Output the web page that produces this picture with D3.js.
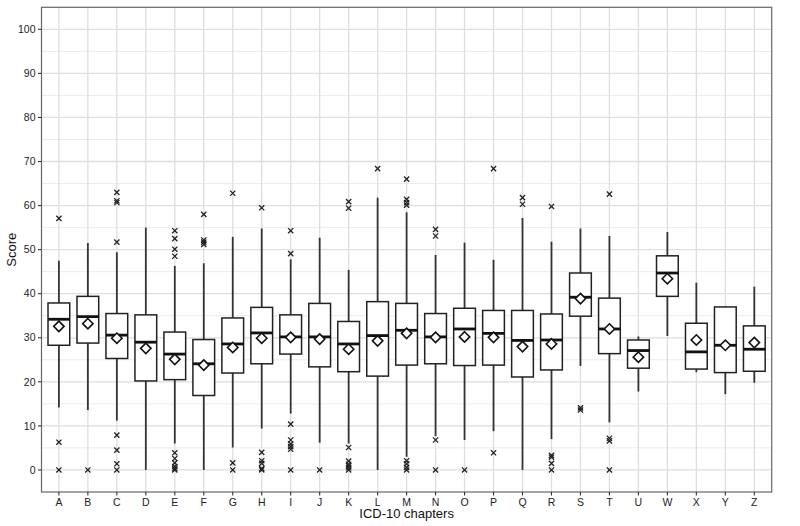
<!DOCTYPE html>
<html>
<head>
<meta charset="utf-8">
<script src="https://cdn.jsdelivr.net/npm/d3@7"></script>
<style>
body{margin:0;background:#fff;}
text{font-family:"Liberation Sans",Arial,Helvetica,sans-serif;}
</style>
</head>
<body>
<svg id="chart" width="800" height="526"></svg>
<script>
const categories = ["A","B","C","D","E","F","G","H","I","J","K","L","M","N","O","P","Q","R","S","T","U","W","X","Y","Z"];
const whiskerLow  = [14.2,13.6,11.2,0,6.0,0,5.1,9.4,12.8,6.2,6.0,0,3.0,7.7,6.8,8.8,0,7.0,23.6,10.8,17.8,30.4,22.2,17.2,19.8];
const q1          = [28.3,28.8,25.3,20.2,20.5,16.9,22.0,24.1,26.3,23.4,22.3,21.3,23.8,24.1,23.7,23.8,21.1,22.7,34.9,26.4,23.1,39.4,22.9,22.1,22.4];
const medians     = [34.2,34.8,30.6,29.0,26.3,24.1,28.6,31.1,30.2,30.2,28.6,30.5,31.7,30.2,32.0,31.0,29.4,29.5,39.2,32.0,27.1,44.7,26.8,28.3,27.4];
const q3          = [37.9,39.4,35.5,35.2,31.3,29.6,34.5,36.9,35.2,37.8,33.7,38.2,37.8,35.5,36.7,36.2,36.2,35.4,44.7,39.0,29.5,48.6,33.3,37.0,32.7];
const whiskerHigh = [47.5,51.5,49.4,55.0,46.3,46.9,52.9,54.8,47.8,52.7,45.4,61.8,58.5,48.8,51.6,47.7,57.2,51.8,54.8,53.1,30.3,54.0,42.5,37.2,41.6];
const means       = [32.6,33.2,29.9,27.6,25.1,23.8,27.8,29.9,30.1,29.7,27.4,29.3,31.0,30.1,30.2,30.1,28.0,28.6,38.9,32.0,25.6,43.4,29.5,28.3,28.9];
const outliers = [
  [57.1,6.3,0],
  [0],
  [63.0,61.1,60.7,51.7,7.9,4.5,1.4,0],
  [],
  [54.3,52.5,50.1,48.5,3.9,2.6,1.6,0.8,0.3,0],
  [58.0,52.2,51.7,51.2],
  [62.8,1.6,0],
  [59.5,4.0,2.1,1.5,0.3,0],
  [54.3,49.1,10.4,6.8,5.9,5.3,4.7,0],
  [0],
  [60.9,59.4,5.1,2.0,1.3,0.9,0.5,0],
  [68.4],
  [66.0,61.4,60.7,60.1,2.1,1.4,0.6,0],
  [54.6,53.1,6.8,0],
  [0],
  [68.4,3.9],
  [61.8,60.3],
  [59.8,3.3,2.9,1.5,0],
  [14.1,13.6],
  [62.6,7.2,6.6,0],
  [],
  [],
  [],
  [],
  []
];
const yTicks = [0,10,20,30,40,50,60,70,80,90,100];
const yMinor = [5,15,25,35,45,55,65,75,85,95];

const svg = d3.select("#chart");
const L = 41.5, R = 771.7, T = 7.3, B = 492;

const y = d3.scaleLinear().domain([-5,105]).range([B,T]);
const x = d3.scaleBand().domain(categories).range([L,R]).paddingOuter(0.1).paddingInner(0);
// discrete expansion 0.6 -> band centers
const step = (R - L) / (categories.length - 1 + 1.2);
const cx = c => L + (0.6 + categories.indexOf(c)) * step;
const boxW = step * 0.75;

const g = svg.append("g");

// grid
g.selectAll(".ymin").data(yMinor).enter().append("line")
  .attr("x1",L).attr("x2",R).attr("y1",d=>y(d)).attr("y2",d=>y(d))
  .attr("stroke","#ebebeb").attr("stroke-width",1);
g.selectAll(".ymaj").data(yTicks).enter().append("line")
  .attr("x1",L).attr("x2",R).attr("y1",d=>y(d)).attr("y2",d=>y(d))
  .attr("stroke","#dedede").attr("stroke-width",1.3);
g.selectAll(".xmaj").data(categories).enter().append("line")
  .attr("x1",d=>cx(d)).attr("x2",d=>cx(d)).attr("y1",T).attr("y2",B)
  .attr("stroke","#dedede").attr("stroke-width",1.3);

// boxes
const bx = g.selectAll(".box").data(categories).enter().append("g");
bx.append("line")
  .attr("x1",d=>cx(d)).attr("x2",d=>cx(d))
  .attr("y1",(d,i)=>y(whiskerHigh[i])).attr("y2",(d,i)=>y(q3[i]))
  .attr("stroke","#333").attr("stroke-width",1.8);
bx.append("line")
  .attr("x1",d=>cx(d)).attr("x2",d=>cx(d))
  .attr("y1",(d,i)=>y(q1[i])).attr("y2",(d,i)=>y(whiskerLow[i]))
  .attr("stroke","#333").attr("stroke-width",1.8);
bx.append("rect")
  .attr("x",d=>cx(d)-boxW/2).attr("width",boxW)
  .attr("y",(d,i)=>y(q3[i])).attr("height",(d,i)=>y(q1[i])-y(q3[i]))
  .attr("fill","#fff").attr("stroke","#222").attr("stroke-width",1.5);
bx.append("line")
  .attr("x1",d=>cx(d)-boxW/2).attr("x2",d=>cx(d)+boxW/2)
  .attr("y1",(d,i)=>y(medians[i])).attr("y2",(d,i)=>y(medians[i]))
  .attr("stroke","#111").attr("stroke-width",2.8);

// outliers
const outPts = [];
categories.forEach((c,i)=>outliers[i].forEach(v=>outPts.push({c,v})));
const s = 2.6;
g.selectAll(".out").data(outPts).enter().append("path")
  .attr("d",d=>{const px=cx(d.c), py=y(d.v);
    return `M${px-s},${py-s}L${px+s},${py+s}M${px-s},${py+s}L${px+s},${py-s}`;})
  .attr("stroke","#222").attr("stroke-width",1.3).attr("fill","none");

// means (diamonds)
const dm = 5.2;
g.selectAll(".mean").data(categories).enter().append("path")
  .attr("d",(d,i)=>{const px=cx(d), py=y(means[i]);
    return `M${px},${py-dm}L${px+dm},${py}L${px},${py+dm}L${px-dm},${py}Z`;})
  .attr("fill","#fff").attr("stroke","#111").attr("stroke-width",1.6);

// border
svg.append("rect").attr("x",L).attr("y",T).attr("width",R-L).attr("height",B-T)
  .attr("fill","none").attr("stroke","#666").attr("stroke-width",1.2);

// y axis
const yAxis = svg.append("g");
yTicks.forEach(t=>{
  yAxis.append("line").attr("x1",L-3.5).attr("x2",L).attr("y1",y(t)).attr("y2",y(t))
    .attr("stroke","#333").attr("stroke-width",1.1);
  yAxis.append("text").attr("x",L-6).attr("y",y(t)).attr("dy","0.35em")
    .attr("text-anchor","end").attr("font-size",10.5).attr("fill","#222").text(t);
});
// x axis
const xAxis = svg.append("g");
categories.forEach(c=>{
  xAxis.append("line").attr("x1",cx(c)).attr("x2",cx(c)).attr("y1",B).attr("y2",B+3.5)
    .attr("stroke","#333").attr("stroke-width",1.1);
  xAxis.append("text").attr("x",cx(c)).attr("y",B+13.5)
    .attr("text-anchor","middle").attr("font-size",10.5).attr("fill","#222").text(c);
});

svg.append("text").attr("x",(L+R)/2).attr("y",518).attr("text-anchor","middle")
  .attr("font-size",13).attr("fill","#111").text("ICD-10 chapters");
svg.append("text").attr("transform",`translate(16,${(T+B)/2}) rotate(-90)`)
  .attr("text-anchor","middle").attr("font-size",13).attr("fill","#111").text("Score");
</script>
</body>
</html>
